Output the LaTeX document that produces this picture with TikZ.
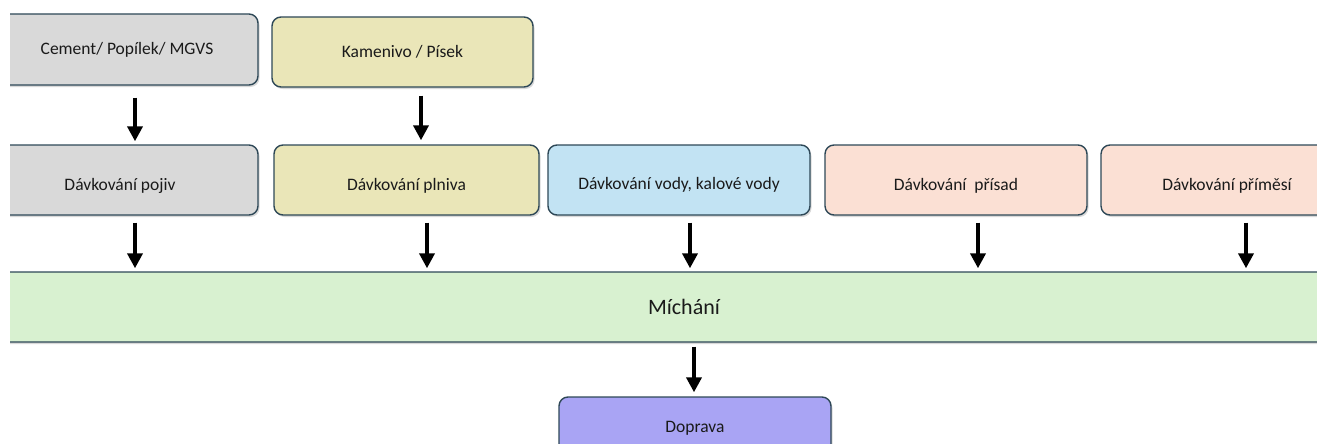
\documentclass[tikz,border=0pt]{standalone}
\usepackage{fontspec}
\setmainfont{Carlito}
\usetikzlibrary{arrows.meta,shadows}
\definecolor{bord}{HTML}{2E4857}
\definecolor{cgrey}{HTML}{D9D9D9}
\definecolor{cyel}{HTML}{EAE6B8}
\definecolor{cblue}{HTML}{C2E3F3}
\definecolor{cpeach}{HTML}{FBE0D4}
\definecolor{cgreen}{HTML}{D8F1D0}
\definecolor{cpurple}{HTML}{A9A4F4}
\definecolor{ctext}{HTML}{1A1A1A}
\tikzset{
  box/.style={draw=bord, line width=1.4pt, rounded corners=9pt, inner sep=0pt,
    font=\fontsize{17.5}{20}\selectfont, text=ctext,
    drop shadow={shadow xshift=1.5pt, shadow yshift=-2pt, opacity=0.3}},
  lowtext/.style={text height=25pt, text depth=4pt},
  arr/.style={line width=4.5pt, -{Triangle[width=15pt,length=15pt]}}
}
\begin{document}
\begin{tikzpicture}[x=1pt,y=-1pt]
\useasboundingbox (0,0) rectangle (1317,444);
\clip (10,0) rectangle (1317,444);
% top row
\node[box, fill=cgrey, minimum width=262pt, minimum height=71pt] (cement) at (127,49.5) {Cement/ Popílek/ MGVS};
\node[box, fill=cyel, minimum width=261pt, minimum height=70pt] (kamenivo) at (402.5,52) {Kamenivo / Písek};
% second row
\node[box, lowtext, fill=cgrey, minimum width=276pt, minimum height=70pt] (pojiv) at (120,180) {Dávkování pojiv};
\node[box, lowtext, fill=cyel, minimum width=265pt, minimum height=70pt] (plniva) at (406.5,180) {Dávkování plniva};
\node[box, fill=cblue, minimum width=262pt, minimum height=70pt, text height=22pt, text depth=4pt] (vody) at (679,180) {Dávkování vody, kalové vody};
\node[box, lowtext, fill=cpeach, minimum width=262pt, minimum height=70pt] (prisad) at (956,180) {Dávkování \ přísad};
\node[box, lowtext, fill=cpeach, minimum width=252pt, minimum height=70pt] (primesi) at (1227,180) {Dávkování příměsí};
% mixing
\node[box, fill=cgreen, minimum width=1388pt, minimum height=70pt, font=\fontsize{22}{24}\selectfont] (michani) at (684,307) {Míchání};
% transport
\node[box, fill=cpurple, minimum width=272pt, minimum height=62pt] (doprava) at (695,428) {Doprava};
% arrow columns
\coordinate (a1) at (135,0);
\coordinate (a2) at (421,0);
\coordinate (a3) at (427,0);
\coordinate (a4) at (690,0);
\coordinate (a5) at (978,0);
\coordinate (a6) at (1246,0);
\coordinate (a7) at (694,0);
% arrows
\draw[arr, shorten <=12pt, shorten >=3pt] (a1 |- cement.south) -- (a1 |- pojiv.north);
\draw[arr, shorten <=8pt, shorten >=4pt] (a2 |- kamenivo.south) -- (a2 |- plniva.north);
\draw[arr, shorten <=7pt, shorten >=3pt] (a1 |- pojiv.south) -- (a1 |- michani.north);
\draw[arr, shorten <=7pt, shorten >=3pt] (a3 |- plniva.south) -- (a3 |- michani.north);
\draw[arr, shorten <=7pt, shorten >=3pt] (a4 |- vody.south) -- (a4 |- michani.north);
\draw[arr, shorten <=7pt, shorten >=3pt] (a5 |- prisad.south) -- (a5 |- michani.north);
\draw[arr, shorten <=7pt, shorten >=3pt] (a6 |- primesi.south) -- (a6 |- michani.north);
\draw[arr, shorten <=4pt, shorten >=4pt] (a7 |- michani.south) -- (a7 |- doprava.north);
\end{tikzpicture}
\end{document}
